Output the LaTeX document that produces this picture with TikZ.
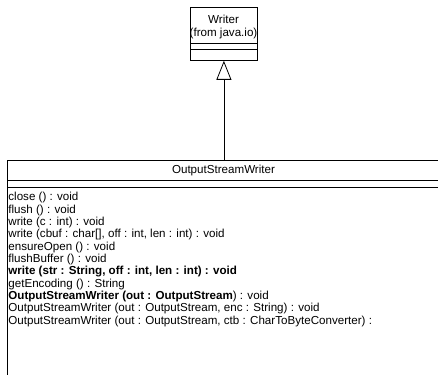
\documentclass[tikz,border=0pt]{standalone}
\usepackage{fontspec}
\setmainfont{Liberation Sans}
\usetikzlibrary{arrows.meta}
\begin{document}
\begin{tikzpicture}[x=1pt,y=-1pt,line width=0.8pt,
  umlbox/.style={draw, anchor=north west, inner sep=0pt},
  lbl/.style={font=\fontsize{11.6}{12.35}\selectfont, inner sep=0pt},
  gen/.style={-{Triangle[open,length=19pt,width=15pt,fill=white]}}]
\useasboundingbox (0,0) rectangle (438,374);
% Writer class
\node[umlbox, minimum width=67pt, minimum height=53pt] (writer) at (190,7) {};
\draw (190,43) -- (257,43);
\draw (190,49) -- (257,49);
\node[lbl] (wname) at (223.5,19) {Writer};
\node[lbl] (wfrom) at (223.5,34) {(from java.io)};
% OutputStreamWriter class
\node[umlbox, minimum width=450pt, minimum height=230pt] (osw) at (7,160) {};
\draw (7,180) -- (450,180);
\draw (7,187) -- (450,187);
\node[lbl] (oname) at (223.5,171) {OutputStreamWriter};
\node[lbl, anchor=north west, align=left] (ops) at (8,192) {%
close () : void\\
flush () : void\\
write (c : int) : void\\
write (cbuf : char[], off : int, len : int) : void\\
ensureOpen () : void\\
flushBuffer () : void\\
\textbf{write (str : String, off : int, len : int) : void}\\
getEncoding () : String\\
\textbf{OutputStreamWriter (out : OutputStream}) : void\\
OutputStreamWriter (out : OutputStream, enc : String) : void\\
OutputStreamWriter (out : OutputStream, ctb : CharToByteConverter) :};
% generalization
\draw[gen] (writer.south |- osw.north) -- (writer.south);
\end{tikzpicture}
\end{document}
